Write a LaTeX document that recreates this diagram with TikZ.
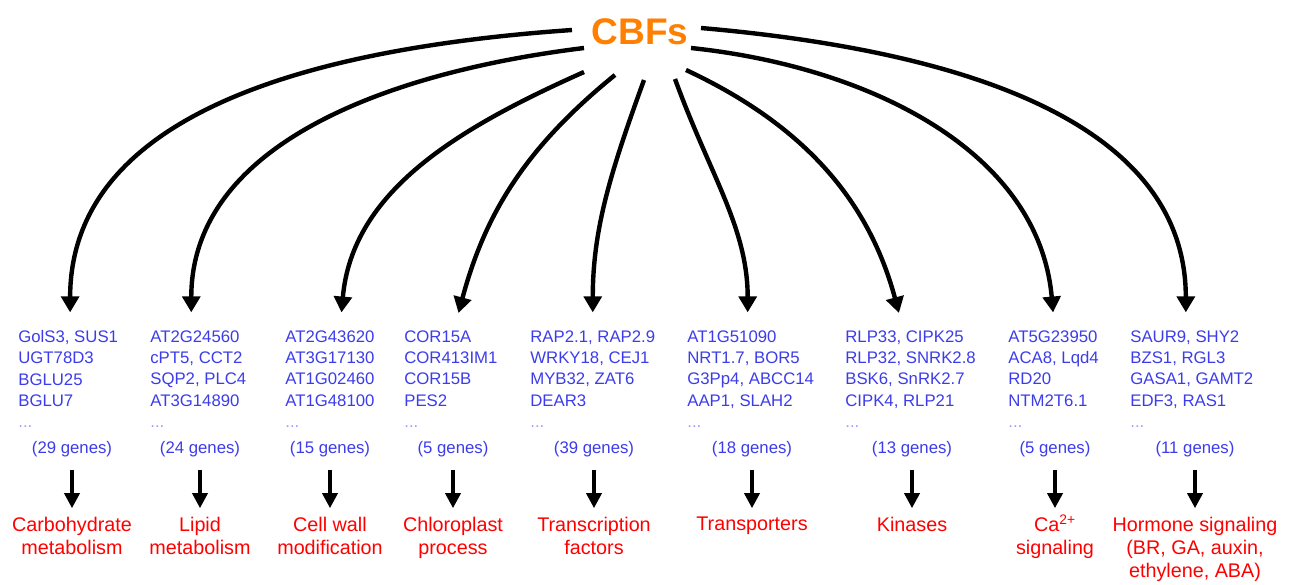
\documentclass[tikz,border=0pt]{standalone}
\usepackage{fontspec}
\setmainfont{Liberation Sans}
\usetikzlibrary{arrows.meta}
\definecolor{cbforange}{RGB}{255,128,0}
\definecolor{geneblue}{RGB}{60,60,235}
\definecolor{funcred}{RGB}{255,0,0}
\tikzset{
  cbf/.style={text=cbforange, font=\fontsize{21}{24}\selectfont\bfseries},
  gene/.style={text=geneblue, align=left, anchor=north west, inner sep=0pt, font=\fontsize{9.5}{12.1}\selectfont},
  genecount/.style={text=geneblue, inner sep=0pt, font=\fontsize{9.5}{12}\selectfont},
  func/.style={text=funcred, align=center, anchor=north, inner sep=0pt, font=\fontsize{11.2}{13}\selectfont},
  cbfarrow/.style={-{Triangle[length=9pt,width=10pt]}, line width=2.5pt, shorten >=10pt},
  downarrow/.style={-{Triangle[length=8.5pt,width=8.5pt]}, line width=2pt, shorten <=7pt, shorten >=5pt}
}
\begin{document}
\begin{tikzpicture}[x=0.5669pt, y=0.5669pt]
    \useasboundingbox (0,0) rectangle (1290,-584);
    \node[cbf] (cbf) at (640,-32) {CBFs};

    \foreach \i/\gx/\cx/\genes/\n/\func in {
        1/18/72/{GolS3, SUS1\\UGT78D3\\BGLU25\\BGLU7}/29/{Carbohydrate\\metabolism},
        2/150/200/{AT2G24560\\cPT5, CCT2\\SQP2, PLC4\\AT3G14890}/24/{Lipid\\metabolism},
        3/285/330/{AT2G43620\\AT3G17130\\AT1G02460\\AT1G48100}/15/{Cell wall\\modification},
        4/404/453/{COR15A\\COR413IM1\\COR15B\\PES2}/5/{Chloroplast\\process},
        5/530/594/{RAP2.1, RAP2.9\\WRKY18, CEJ1\\MYB32, ZAT6\\DEAR3}/39/{Transcription\\factors},
        6/687/752/{AT1G51090\\NRT1.7, BOR5\\G3Pp4, ABCC14\\AAP1, SLAH2}/18/{Transporters},
        7/845/912/{RLP33, CIPK25\\RLP32, SNRK2.8\\BSK6, SnRK2.7\\CIPK4, RLP21}/13/{Kinases},
        8/1008/1055/{AT5G23950\\ACA8, Lqd4\\RD20\\NTM2T6.1}/5/{Ca\smash{\textsuperscript{2+}}\\signaling},
        9/1130/1195/{SAUR9, SHY2\\BZS1, RGL3\\GASA1, GAMT2\\EDF3, RAS1}/11/{Hormone signaling\\(BR, GA, auxin,\\ethylene, ABA)}}
    {
        \node[gene] (g\i) at (\gx,-330) {\genes\\{\color{geneblue!50}...}};
        \node[genecount] (c\i) at (\cx,-449) {(\n\ genes)};
        \node[func] (l\i) at (\cx,-517) {\func};
        \draw[downarrow] (c\i) -- (c\i |- l\i.north);
    }

    % starting points around CBFs
    \foreach \i/\p in {1/{572,-30}, 2/{584,-48}, 3/{584,-72}, 4/{615,-75}, 5/{644,-80},
                      6/{675,-79}, 7/{686,-70}, 8/{691,-48}, 9/{701,-28}}
        \coordinate (s\i) at (\p);

    \foreach \i/\o/\n/\dx in {1/184/90/1.1, 2/187/90/-4, 3/204/85/5.7, 4/219/75/1.7, 5/250/90/0,
                             6/290/90/-1.7, 7/335/105/-4, 8/354/95/0.6, 9/355/90/-3.4}
        \draw[cbfarrow] (s\i) to[out=\o, in=\n] ([xshift=\dx pt]g\i.north);
\end{tikzpicture}
\end{document}
